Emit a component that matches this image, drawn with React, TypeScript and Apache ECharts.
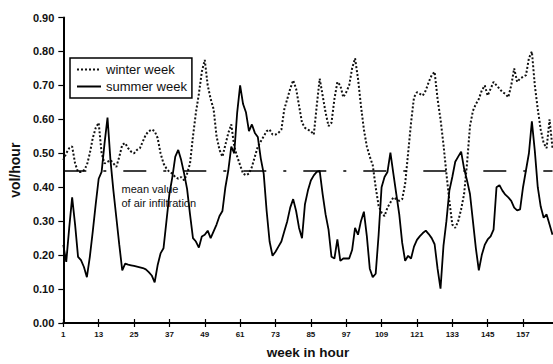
import React, { useEffect, useRef } from "react";
import * as echarts from "echarts";

const hours: string[] = Array.from({ length: 167 }, (_, i) => String(i + 1));

const winterWeek: number[] = [
  0.48, 0.50, 0.515, 0.52, 0.47, 0.445, 0.445, 0.45, 0.465, 0.50,
  0.545, 0.575, 0.59, 0.50, 0.47, 0.475, 0.48, 0.47, 0.46, 0.49,
  0.525, 0.53, 0.515, 0.505, 0.50, 0.51, 0.515, 0.535, 0.555, 0.565,
  0.57, 0.565, 0.545, 0.50, 0.47, 0.455, 0.445, 0.44, 0.43, 0.425,
  0.43, 0.42, 0.44, 0.47, 0.55, 0.62, 0.675, 0.74, 0.775, 0.70,
  0.66, 0.63, 0.55, 0.51, 0.49, 0.525, 0.56, 0.585, 0.52, 0.49,
  0.465, 0.44, 0.435, 0.44, 0.46, 0.49, 0.52, 0.535, 0.55, 0.565,
  0.57, 0.555, 0.555, 0.56, 0.57, 0.63, 0.66, 0.69, 0.715, 0.69,
  0.64, 0.59, 0.575, 0.57, 0.565, 0.555, 0.64, 0.72, 0.67, 0.62,
  0.58, 0.59, 0.66, 0.71, 0.70, 0.665, 0.68, 0.70, 0.75, 0.78,
  0.72, 0.64, 0.57, 0.52, 0.49, 0.465, 0.40, 0.345, 0.325, 0.315,
  0.34, 0.355, 0.37, 0.365, 0.36, 0.365, 0.41, 0.50, 0.59, 0.665,
  0.68, 0.675, 0.67, 0.685, 0.71, 0.73, 0.74, 0.66, 0.60, 0.526,
  0.44, 0.36, 0.29, 0.28, 0.30, 0.335, 0.38, 0.47, 0.58, 0.625,
  0.645, 0.66, 0.685, 0.70, 0.67, 0.69, 0.71, 0.70, 0.69, 0.68,
  0.675, 0.665, 0.70, 0.75, 0.71, 0.72, 0.725, 0.73, 0.78, 0.80,
  0.70, 0.63, 0.57, 0.53, 0.515, 0.60, 0.515,
];

const summerWeek: number[] = [
  0.23, 0.18, 0.28, 0.37, 0.29, 0.195, 0.185, 0.165, 0.135, 0.195,
  0.27, 0.35, 0.425, 0.445, 0.53, 0.605, 0.48, 0.39, 0.31, 0.23,
  0.155, 0.175, 0.172, 0.17, 0.168, 0.166, 0.164, 0.162, 0.158, 0.15,
  0.14, 0.12, 0.17, 0.205, 0.22, 0.30, 0.38, 0.43, 0.49, 0.51,
  0.48, 0.44, 0.395, 0.32, 0.25, 0.24, 0.222, 0.255, 0.26, 0.272,
  0.25, 0.27, 0.29, 0.315, 0.33, 0.40, 0.45, 0.52, 0.50, 0.62,
  0.70, 0.645, 0.62, 0.565, 0.585, 0.56, 0.548, 0.485, 0.44, 0.33,
  0.24, 0.198, 0.21, 0.225, 0.24, 0.27, 0.30, 0.34, 0.365, 0.33,
  0.28, 0.25, 0.35, 0.39, 0.42, 0.435, 0.445, 0.448, 0.38, 0.32,
  0.275, 0.195, 0.19, 0.246, 0.183, 0.19, 0.19, 0.19, 0.215, 0.28,
  0.26, 0.30, 0.328, 0.256, 0.16, 0.135, 0.145, 0.26, 0.40, 0.43,
  0.445, 0.502, 0.44, 0.38, 0.32, 0.236, 0.183, 0.198, 0.19, 0.225,
  0.245, 0.256, 0.265, 0.272, 0.262, 0.25, 0.232, 0.16, 0.101, 0.227,
  0.30, 0.39, 0.43, 0.475, 0.49, 0.505, 0.455, 0.42, 0.38, 0.30,
  0.22, 0.155, 0.20, 0.23, 0.246, 0.255, 0.275, 0.40, 0.406, 0.39,
  0.378, 0.37, 0.36, 0.34, 0.332, 0.335, 0.40, 0.45, 0.50, 0.594,
  0.507, 0.40, 0.343, 0.31, 0.32, 0.29, 0.26,
];

const meanValue = 0.445;
const seriesNames = ["winter week", "summer week"];
const annotationLines = ["mean value", "of air infiltration"];

const FONT = "Liberation Sans, Arial, sans-serif";

export default function App() {
  const ref = useRef<HTMLDivElement>(null);

  useEffect(() => {
    document.body.style.margin = "0";
    if (!ref.current) return;
    const chart = echarts.init(ref.current, undefined, { renderer: "svg" });
    chart.setOption({
      animation: false,
      backgroundColor: "#ffffff",
      textStyle: { fontFamily: FONT },
      grid: { left: 62.7, right: 0.5, top: 17.5, bottom: 35.7, containLabel: false },
      legend: {
        orient: "vertical",
        left: 70,
        top: 58,
        padding: [5, 5, 5, 6],
        itemWidth: 24,
        itemHeight: 13,
        itemGap: 4,
        borderColor: "#000",
        borderWidth: 1.5,
        backgroundColor: "#fff",
        itemStyle: { opacity: 0 },
        textStyle: { fontSize: 13, color: "#111", fontFamily: FONT },
        data: seriesNames,
      },
      xAxis: [
        {
          type: "category",
          data: hours,
          boundaryGap: false,
          name: "week in hour",
          nameLocation: "middle",
          nameGap: 22,
          nameTextStyle: { fontSize: 13.5, fontWeight: "bold", color: "#111", fontFamily: FONT },
          axisLine: { lineStyle: { color: "#000", width: 2 } },
          axisTick: { show: true, interval: 11, length: 4, lineStyle: { color: "#000", width: 1.2 } },
          axisLabel: { interval: 11, fontSize: 8, fontWeight: "bold", color: "#111", margin: 7, fontFamily: FONT },
          splitLine: { show: false },
        },
        {
          type: "category",
          data: hours,
          boundaryGap: false,
          position: "bottom",
          axisLine: { show: false },
          axisTick: { show: true, inside: true, interval: 11, length: 4, lineStyle: { color: "#000", width: 1.2 } },
          axisLabel: { show: false },
          splitLine: { show: false },
        },
      ],
      yAxis: {
        type: "value",
        min: 0,
        max: 0.9,
        interval: 0.1,
        name: "vol/hour",
        nameLocation: "middle",
        nameGap: 37,
        nameTextStyle: { fontSize: 14, fontWeight: "bold", color: "#111", fontFamily: FONT },
        axisLine: { show: true, lineStyle: { color: "#000", width: 2 } },
        axisTick: { show: true, length: 5, lineStyle: { color: "#000", width: 1.2 } },
        axisLabel: {
          fontSize: 11,
          fontWeight: "bold",
          color: "#111",
          margin: 9,
          fontFamily: FONT,
          formatter: (v: number) => v.toFixed(2),
        },
        splitLine: { show: false },
      },
      series: [
        {
          name: seriesNames[0],
          type: "line",
          data: winterWeek,
          symbol: "none",
          lineStyle: { color: "#111", width: 2, type: [2, 2] },
          itemStyle: { color: "#111" },
          z: 3,
        },
        {
          name: seriesNames[1],
          type: "line",
          data: summerWeek,
          symbol: "none",
          lineStyle: { color: "#000", width: 1.8, type: "solid" },
          itemStyle: { color: "#000" },
          z: 4,
          markLine: {
            silent: true,
            symbol: "none",
            label: { show: false },
            lineStyle: { color: "#000", width: 1.5, type: [23, 17, 3, 17] },
            data: [{ yAxis: meanValue }],
          },
        },
      ],
      graphic: [
        {
          type: "text",
          left: 121.5,
          top: 182,
          z: 10,
          style: {
            text: annotationLines.join("\n"),
            fontSize: 11,
            lineHeight: 14,
            fill: "#111",
            fontFamily: FONT,
          },
        },
      ],
    });
    return () => chart.dispose();
  }, []);

  return <div ref={ref} style={{ width: 553, height: 364 }} />;
}
